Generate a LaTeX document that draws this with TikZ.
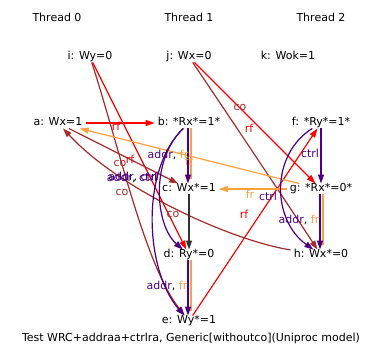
\documentclass[tikz,border=0pt]{standalone}
\usepackage{fontspec}
\setmainfont{DejaVu Sans}
\usepackage{xcolor}
\usepackage{tikz}
\usetikzlibrary{arrows.meta}

\definecolor{rfcol}{HTML}{FF0000}
\definecolor{cocol}{HTML}{A52A2A}
\definecolor{frcol}{HTML}{FFA040}
\definecolor{depcol}{HTML}{4B0082}

\tikzset{
    evento/.style={inner xsep=3pt, inner ysep=0.5pt, text height=7.5pt, text depth=2pt},
    etichetta/.style={inner sep=0pt},
    freccia/.style={line width=1.2pt, -{Triangle[length=9pt,width=6pt]}},
    rf/.style={freccia, rfcol},
    co/.style={freccia, cocol},
    fr/.style={freccia, frcol},
    dep/.style={freccia, depcol},
    po/.style={freccia, black!80},
    affianco/.style={line width=1.2pt, frcol, shorten >=5pt}
}

\begin{document}
\begin{tikzpicture}[x=1pt, y=-1pt, font=\fontsize{11}{13}\selectfont]

    \useasboundingbox (0,0) rectangle (383,361);

    % ==========================================
    % 1. THREAD ED EVENTI
    % ==========================================

    \node (t0) at (57,17) {Thread 0};
    \node (t1) at (189,17) {Thread 1};
    \node (t2) at (321,17) {Thread 2};

    % Scritture iniziali
    \node[evento] (i) at (90,57) {i: Wy=0};
    \node[evento] (j) at (189,57) {j: Wx=0};
    \node[evento] (k) at (288,57) {k: Wok=1};

    % Eventi dei thread
    \node[evento] (a) at (58,123) {a: Wx=1};
    \node[evento] (b) at (189,123) {b: *Rx*=1*};
    \node[evento] (c) at (189,189) {c: Wx*=1};
    \node[evento] (d) at (189,255) {d: Ry*=0};
    \node[evento] (e) at (189,321) {e: Wy*=1};
    \node[evento] (f) at (321,123) {f: *Ry*=1*};
    \node[evento] (g) at (321,189) {g: *Rx*=0*};
    \node[evento] (h) at (321,255) {h: Wx*=0};

    \node (titolo) at (191,338) {Test WRC+addraa+ctrlra, Generic[withoutco](Uniproc model)};


    % ==========================================
    % 2. RELAZIONI (rf, co, fr)
    % ==========================================

    % rf
    \draw[rf] (a) -- (b);
    \draw[rf] (i) -- (d);
    \draw[rf] (j) -- (g);
    \draw[rf] (e) -- (f);

    % co
    \draw[co] (a) -- (c);
    \draw[co] (i) .. controls (120,150) and (145,265) .. (e);
    \draw[co] (h) .. controls (230,240) and (120,190) .. (a);
    \draw[co] (j) .. controls (235,125) and (285,200) .. (h);

    % fr
    \draw[fr] (g) -- (c);
    \draw[fr] (g) -- (a);


    % ==========================================
    % 3. DIPENDENZE E po
    % ==========================================

    % archi doppi: la linea arancione accanto a quella viola
    \draw[affianco] ([xshift=2pt]b.south) -- ([xshift=2pt]c.north);
    \draw[dep] ([xshift=-1pt]b.south) -- ([xshift=-1pt]c.north);
    \draw[affianco] ([xshift=2pt]d.south) -- ([xshift=2pt]e.north);
    \draw[dep] ([xshift=-1pt]d.south) -- ([xshift=-1pt]e.north);
    \draw[affianco] ([xshift=2pt]g.south) -- ([xshift=2pt]h.north);
    \draw[dep] ([xshift=-1pt]g.south) -- ([xshift=-1pt]h.north);

    \draw[dep] (f) -- (g);
    \draw[dep] (f) .. controls (270,155) and (272,220) .. (h);
    \draw[dep] (b) .. controls (150,160) and (155,225) .. (d);
    \draw[dep] (b) .. controls (140,170) and (145,270) .. (e);

    \draw[po] (c) -- (d);


    % ==========================================
    % 4. ETICHETTE
    % ==========================================

    \node[etichetta, text=rfcol] (lab) at (116,126) {rf};
    \node[etichetta, text=rfcol] (lid) at (130,159) {rf};
    \node[etichetta, text=rfcol] (ljg) at (249,128) {rf};
    \node[etichetta, text=rfcol] (lef) at (244,214) {rf};

    \node[etichetta, text=cocol] (lie) at (120,163) {co};
    \node[etichetta, text=cocol] (lac) at (122,192) {co};
    \node[etichetta, text=cocol] (lha) at (173,214) {co};
    \node[etichetta, text=cocol] (ljh) at (240,107) {co};

    \node[etichetta, text=frcol] (lga) at (189,161) {fr};
    \node[etichetta, text=frcol] (lgc) at (250,194) {fr};

    \node[etichetta] (lbc) at (168,155) {\textcolor{depcol}{addr}, \textcolor{frcol}{fr}};
    \node[etichetta] (lde) at (167,286) {\textcolor{depcol}{addr}, \textcolor{frcol}{fr}};
    \node[etichetta] (lgh) at (299,220) {\textcolor{depcol}{addr}, \textcolor{frcol}{fr}};

    \node[etichetta, text=depcol] (lfg) at (310,153) {ctrl};
    \node[etichetta, text=depcol] (lfh) at (268,196) {ctrl};

    % due etichette quasi sovrapposte
    \node[etichetta] (lbd) at (132,178) {\textcolor{depcol}{addr}, \textcolor{depcol}{ctrl}};
    \node[etichetta] (lbe) at (133.5,177) {\textcolor{depcol}{addr}, \textcolor{depcol}{ctrl}};

\end{tikzpicture}
\end{document}
